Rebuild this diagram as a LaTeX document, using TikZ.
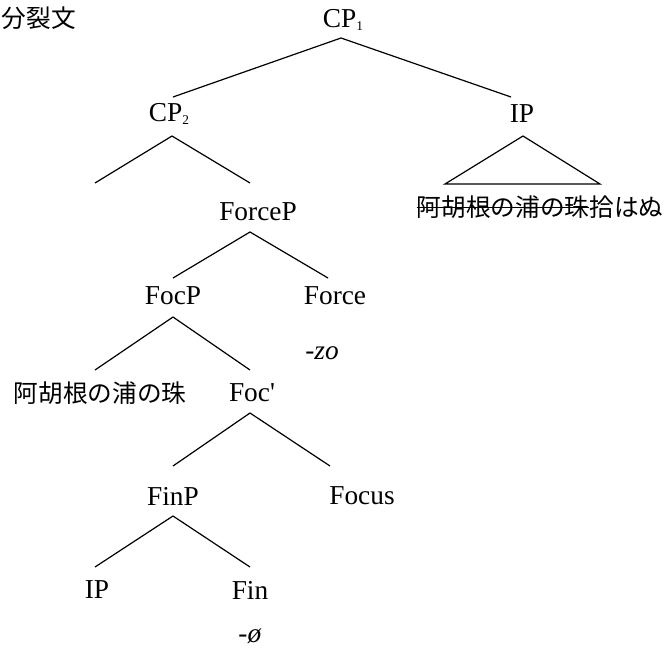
\documentclass[tikz,border=0pt]{standalone}
\usepackage{fontspec}
\setmainfont{Liberation Serif}[Ligatures=TeXOff]
\newfontfamily\cjk{Noto Sans CJK JP}
\newcommand{\subn}[1]{\raisebox{-0.12em}{\fontsize{10}{10}\selectfont #1}}
\begin{document}
\begin{tikzpicture}[x=0.75pt,y=-0.75pt,
  lab/.style={inner sep=0pt,font=\fontsize{20.5}{24}\selectfont},
  jlab/.style={inner sep=0pt,font=\fontsize{18.5}{22}\selectfont\cjk},
  branch/.style={line width=0.9pt}]
\useasboundingbox (0,0) rectangle (671,653);
% labels
\node[jlab] (title) at (39,18) {分裂文};
\node[lab] (cp1) at (343,20) {CP\subn{1}};
\node[lab] (cp2) at (169,114) {CP\subn{2}};
\node[lab] (ip) at (522,114) {IP};
\node[jlab] (iptext) at (540,207) {\rlap{\rule[0.33em]{7em}{0.9pt}}阿胡根の浦の珠拾はぬ};
\node[lab] (forcep) at (258,212) {ForceP};
\node[lab] (focp) at (173,296) {FocP};
\node[lab] (force) at (335,296) {Force};
\node[lab] (zo) at (322,353) {\textit{-zo}};
\node[jlab] (akone) at (100,393) {阿胡根の浦の珠};
\node[lab] (focbar) at (252,393) {Foc'};
\node[lab] (finp) at (173,496) {FinP};
\node[lab] (focus) at (362,496) {Focus};
\node[lab] (ip2) at (97,590) {IP};
\node[lab] (fin) at (250,590) {Fin};
\node[lab] (phi) at (250,636) {\textit{-ø}};
% branch points
\coordinate (cp1a) at (341,38);
\coordinate (cp1l) at (173,97);
\coordinate (cp1r) at (511,97);
\coordinate (cp2a) at (172,136);
\coordinate (cp2l) at (95,183);
\coordinate (cp2r) at (250,183);
\coordinate (ipa) at (523,136);
\coordinate (ipl) at (445,184);
\coordinate (ipr) at (600,184);
\coordinate (forcepa) at (250,232);
\coordinate (forcepl) at (173,278);
\coordinate (forcepr) at (328,278);
\coordinate (focpa) at (173,317);
\coordinate (focpl) at (95,370);
\coordinate (focpr) at (250,370);
\coordinate (focbara) at (250,413);
\coordinate (focbarl) at (173,466);
\coordinate (focbarr) at (330,466);
\coordinate (finpa) at (173,516);
\coordinate (finpl) at (95,567);
\coordinate (finpr) at (250,567);
% branches
\draw[branch] (cp1l) -- (cp1a) -- (cp1r);
\draw[branch] (cp2l) -- (cp2a) -- (cp2r);
\draw[branch] (ipl) -- (ipa) -- (ipr) -- cycle;
\draw[branch] (forcepl) -- (forcepa) -- (forcepr);
\draw[branch] (focpl) -- (focpa) -- (focpr);
\draw[branch] (focbarl) -- (focbara) -- (focbarr);
\draw[branch] (finpl) -- (finpa) -- (finpr);
\end{tikzpicture}
\end{document}
